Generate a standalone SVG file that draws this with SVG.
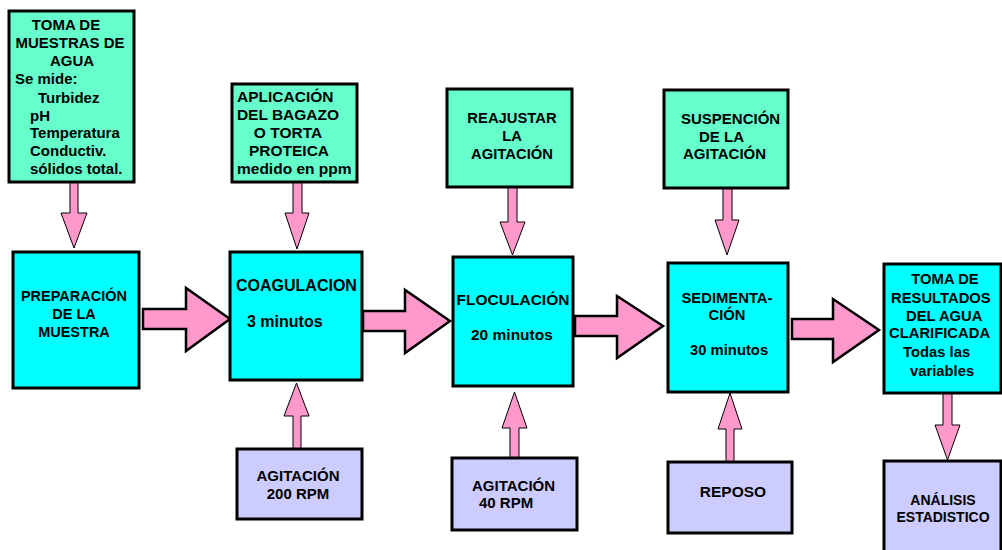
<svg xmlns="http://www.w3.org/2000/svg" width="1002" height="550" viewBox="0 0 1002 550">
<style>
.g{fill:#66FFCC;stroke:#000;stroke-width:3}
.c{fill:#00FFFF;stroke:#000;stroke-width:3}
.l{fill:#CCCCFF;stroke:#000;stroke-width:3}
.ab{fill:#FF99CC;stroke:#000;stroke-width:2.5;stroke-linejoin:miter}
.as{fill:#FF99CC;stroke:#000;stroke-width:1}
text{font-family:"Liberation Sans",Arial,sans-serif;font-weight:bold;fill:#000}
.m{text-anchor:middle}
</style>
<rect width="1002" height="550" fill="#fff"/>
<g id="connectors">
<polygon class="ab" points="143,309 186,309 186,288 230,319 186,351 186,329 143,329"/>
<polygon class="ab" points="363,311 405,311 405,290 450,321 405,353 405,331 363,331"/>
<polygon class="ab" points="575,316 617,316 617,296 663,326 617,358 617,336 575,336"/>
<polygon class="ab" points="792,319 833,319 833,299 879,330 833,362 833,339 792,339"/>
<polygon class="as" points="70,182 78,182 78,213 87,213 74,248 61,213 70,213"/>
<polygon class="as" points="293,182 302,182 302,213 309,213 297,249 285,213 293,213"/>
<polygon class="as" points="508,187 517,187 517,222 525,222 512.5,255 500,222 508,222"/>
<polygon class="as" points="723,188 732,188 732,220 739,220 727,255 715,220 723,220"/>
<polygon class="as" points="943,393 952,393 952,425 960,425 947.5,460 935,425 943,425"/>
<polygon class="as" points="293,449 301,449 301,416 309,416 296.5,383 284,416 293,416"/>
<polygon class="as" points="510,458 519,458 519,428 527,428 514.5,392 502,428 510,428"/>
<polygon class="as" points="726,462 734,462 734,429 742,429 730,393 718,429 726,429"/>
</g>
<g id="n1" font-size="15">
<rect class="g" x="9" y="11" width="125" height="171"/>
<text class="m" x="66" y="30">TOMA DE</text>
<text class="m" x="70" y="48">MUESTRAS DE</text>
<text class="m" x="72" y="66">AGUA</text>
<text x="15" y="84">Se mide:</text>
<text x="38" y="103">Turbidez</text>
<text x="30" y="121">pH</text>
<text x="30" y="138">Temperatura</text>
<text x="30" y="156">Conductiv.</text>
<text x="30" y="174">sólidos total.</text>
</g>
<g id="n2" font-size="14.5">
<rect class="c" x="13" y="252" width="126" height="136"/>
<text class="m" x="74" y="301">PREPARACIÓN</text>
<text class="m" x="74" y="319">DE LA</text>
<text class="m" x="74" y="337">MUESTRA</text>
</g>
<g id="n3" font-size="15.5">
<rect class="g" x="232" y="84" width="125" height="98"/>
<text x="237" y="102">APLICACIÓN</text>
<text class="m" x="288" y="120">DEL BAGAZO</text>
<text class="m" x="288" y="138">O TORTA</text>
<text class="m" x="289" y="156">PROTEICA</text>
<text x="237" y="174">medido en ppm</text>
</g>
<g id="n4" font-size="16">
<rect class="c" x="230" y="252" width="132" height="128"/>
<text x="236" y="291">COAGULACION</text>
<text x="247" y="327">3 minutos</text>
</g>
<g id="n5" font-size="15">
<rect class="l" x="237" y="449" width="125" height="70"/>
<text class="m" x="298" y="481">AGITACIÓN</text>
<text class="m" x="298" y="499">200 RPM</text>
</g>
<g id="n6" font-size="14.8">
<rect class="g" x="447" y="89" width="125" height="98"/>
<text class="m" x="512" y="123">REAJUSTAR</text>
<text class="m" x="512" y="141">LA</text>
<text class="m" x="512" y="159">AGITACIÓN</text>
</g>
<g id="n7" font-size="15.5">
<rect class="c" x="453" y="257" width="120" height="129"/>
<text class="m" x="513" y="305">FLOCULACIÓN</text>
<text x="471" y="340">20 minutos</text>
</g>
<g id="n8" font-size="15">
<rect class="l" x="452" y="458" width="125" height="72"/>
<text x="472" y="491">AGITACIÓN</text>
<text x="479" y="508">40 RPM</text>
</g>
<g id="n9" font-size="15">
<rect class="g" x="664" y="90" width="124" height="98"/>
<text x="681" y="124">SUSPENCIÓN</text>
<text x="699" y="142">DE LA</text>
<text x="683" y="159">AGITACIÓN</text>
</g>
<g id="n10" font-size="14.8">
<rect class="c" x="668" y="263" width="120" height="129"/>
<text class="m" x="727" y="303">SEDIMENTA-</text>
<text class="m" x="727" y="320">CIÓN</text>
<text x="690" y="355">30 minutos</text>
</g>
<g id="n11" font-size="15.5">
<rect class="l" x="668" y="462" width="124" height="71"/>
<text class="m" x="733" y="497">REPOSO</text>
</g>
<g id="n12" font-size="14.8">
<rect class="c" x="884" y="264" width="117" height="129"/>
<text class="m" x="945" y="284">TOMA DE</text>
<text x="891" y="303">RESULTADOS</text>
<text x="906" y="321">DEL AGUA</text>
<text x="889" y="338">CLARIFICADA</text>
<text x="903" y="357">Todas las</text>
<text x="910" y="376">variables</text>
</g>
<g id="n13" font-size="14">
<rect class="l" x="884" y="461" width="117" height="100"/>
<text class="m" x="943" y="505">ANÁLISIS</text>
<text class="m" x="943" y="522">ESTADISTICO</text>
</g>
</svg>
